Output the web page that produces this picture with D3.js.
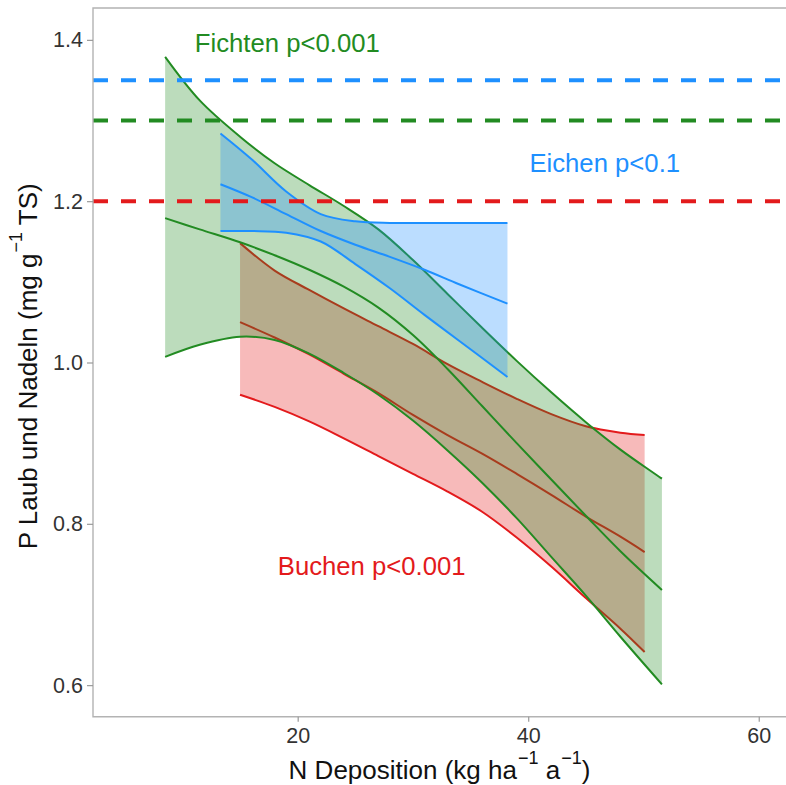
<!DOCTYPE html>
<html>
<head>
<meta charset="utf-8">
<script src="https://cdn.jsdelivr.net/npm/d3@7"></script>
<style>
  html, body { margin: 0; padding: 0; background: #fff; }
  svg { display: block; font-family: "Liberation Sans", Arial, Helvetica, sans-serif; }
</style>
</head>
<body>
<svg id="chart" width="786" height="785"></svg>
<script>
// Axis ticks
const xTicks = [20, 40, 60];
const yTicks = [0.6, 0.8, 1.0, 1.2, 1.4];

// Buchen (beech): fitted P content with confidence band
const buchenX    = [15, 18, 21, 24, 27, 30, 33, 36, 39, 42, 45, 48, 50.1];
const buchenFit  = [1.050, 1.031, 1.010, 0.986, 0.962, 0.935, 0.910, 0.887, 0.862, 0.836, 0.809, 0.784, 0.765];
const buchenLow  = [0.960, 0.945, 0.927, 0.906, 0.884, 0.862, 0.840, 0.815, 0.783, 0.747, 0.708, 0.670, 0.641];
const buchenHigh = [1.148, 1.114, 1.090, 1.067, 1.045, 1.023, 0.998, 0.976, 0.955, 0.936, 0.921, 0.913, 0.910];

// Fichten (spruce)
const fichtenX    = [8.5, 11.5, 15, 18, 21, 24, 27, 30, 33, 36, 39, 42, 45, 48, 51.6];
const fichtenFit  = [1.179, 1.165, 1.149, 1.133, 1.115, 1.094, 1.068, 1.034, 0.992, 0.946, 0.900, 0.855, 0.810, 0.766, 0.718];
const fichtenLow  = [1.007, 1.022, 1.032, 1.028, 1.011, 0.987, 0.960, 0.928, 0.891, 0.851, 0.807, 0.759, 0.711, 0.660, 0.601];
const fichtenHigh = [1.379, 1.325, 1.280, 1.247, 1.220, 1.194, 1.165, 1.127, 1.085, 1.043, 1.002, 0.963, 0.926, 0.892, 0.856];

// Eichen (oak)
const eichenX    = [13.3, 16, 19, 22, 25, 28, 31, 34, 38.2];
const eichenFit  = [1.221, 1.205, 1.184, 1.163, 1.146, 1.131, 1.115, 1.097, 1.073];
const eichenLow  = [1.163, 1.163, 1.161, 1.150, 1.122, 1.092, 1.059, 1.027, 0.982];
const eichenHigh = [1.284, 1.252, 1.212, 1.184, 1.175, 1.173, 1.173, 1.173, 1.173];

// Reference levels (dashed)
const refNames  = ["Eichen", "Fichten", "Buchen"];
const refLevels = [1.35, 1.30, 1.20];

// Annotation texts
const labelNames = ["Fichten", "Eichen", "Buchen"];
const labelTexts = ["Fichten p<0.001", "Eichen p<0.1", "Buchen p<0.001"];

const colors = { Buchen: "#E31A1C", Fichten: "#228B22", Eichen: "#1E90FF" };

const W = 786, H = 785;
const panel = { left: 93, top: 8, right: 786, bottom: 716.7 };

const x = d3.scaleLinear().domain([2.25, 62.4]).range([93.1, 786.4]);
const y = d3.scaleLinear().domain([0.56, 1.44]).range([717.4, 7.6]);

const svg = d3.select("#chart");
svg.append("rect").attr("width", W).attr("height", H).attr("fill", "#fff");

svg.append("clipPath").attr("id", "panel-clip")
  .append("rect")
  .attr("x", panel.left).attr("y", panel.top)
  .attr("width", panel.right - panel.left).attr("height", panel.bottom - panel.top);

const plot = svg.append("g").attr("clip-path", "url(#panel-clip)");

function makeSeries(name, xs, fit, lo, hi) {
  return {
    name,
    rows: xs.map((d, i) => ({ x: d, fit: fit[i], lo: lo[i], hi: hi[i] }))
  };
}

const series = [
  makeSeries("Buchen", buchenX, buchenFit, buchenLow, buchenHigh),
  makeSeries("Fichten", fichtenX, fichtenFit, fichtenLow, fichtenHigh),
  makeSeries("Eichen", eichenX, eichenFit, eichenLow, eichenHigh)
];

const curve = d3.curveCatmullRom.alpha(0.5);
const area = d3.area().x(d => x(d.x)).y0(d => y(d.lo)).y1(d => y(d.hi)).curve(curve);
const lineOf = key => d3.line().x(d => x(d.x)).y(d => y(d[key])).curve(curve);

series.forEach(s => {
  const g = plot.append("g");
  const c = colors[s.name];
  g.append("path").datum(s.rows)
    .attr("d", area)
    .attr("fill", c).attr("fill-opacity", 0.3).attr("stroke", "none");
  ["lo", "fit", "hi"].forEach(k => {
    g.append("path").datum(s.rows)
      .attr("d", lineOf(k))
      .attr("fill", "none").attr("stroke", c)
      .attr("stroke-width", 2);
  });
});

// Dashed reference levels
refLevels.forEach((v, i) => {
  plot.append("line")
    .attr("x1", panel.left).attr("x2", panel.right + 5)
    .attr("y1", y(v)).attr("y2", y(v))
    .attr("stroke", colors[refNames[i]])
    .attr("stroke-width", 4)
    .attr("stroke-dasharray", "15,13");
});

// Panel border
const borderColor = "#b3b3b3";
svg.append("path")
  .attr("d", `M${panel.right + 2},${panel.top}H${panel.left}V${panel.bottom}H${panel.right + 2}`)
  .attr("fill", "none").attr("stroke", borderColor).attr("stroke-width", 1.4);

// Axes
const xAxis = svg.append("g").attr("transform", `translate(0,${panel.bottom})`)
  .call(d3.axisBottom(x).tickValues(xTicks).tickSize(5).tickPadding(6).tickFormat(d3.format("d")));
const yAxis = svg.append("g").attr("transform", `translate(${panel.left},0)`)
  .call(d3.axisLeft(y).tickValues(yTicks).tickSize(6).tickPadding(4).tickFormat(d3.format(".1f")));

[xAxis, yAxis].forEach(a => {
  a.select(".domain").remove();
  a.selectAll(".tick line").attr("stroke", "#999").attr("stroke-width", 1.2);
  a.selectAll(".tick text")
    .attr("fill", "#333")
    .style("font-size", "21.5px")
    .style("font-family", "\"Liberation Sans\", Arial, sans-serif");
});

// Axis titles
const xTitle = svg.append("text")
  .attr("x", (panel.left + panel.right) / 2).attr("y", 779)
  .attr("text-anchor", "middle")
  .style("font-size", "26px").attr("fill", "#111");
xTitle.append("tspan").text("N Deposition (kg ha");
xTitle.append("tspan").attr("dy", -15).attr("dx", 1).style("font-size", "18px").text("\u22121");
xTitle.append("tspan").attr("dy", 15).text(" a");
xTitle.append("tspan").attr("dy", -15).attr("dx", 1).style("font-size", "18px").text("\u22121");
xTitle.append("tspan").attr("dy", 15).text(")");

const yTitle = svg.append("text")
  .attr("transform", `translate(37,${(panel.top + panel.bottom) / 2 + 4}) rotate(-90)`)
  .attr("text-anchor", "middle")
  .style("font-size", "26px").attr("fill", "#111");
yTitle.append("tspan").text("P Laub und Nadeln (mg g");
yTitle.append("tspan").attr("dy", -15).attr("dx", 1).style("font-size", "18px").text("\u22121");
yTitle.append("tspan").attr("dy", 15).text(" TS)");

// Significance annotations
const labelPos = { Fichten: [19.1, 1.385], Eichen: [46.64, 1.2366], Buchen: [26.42, 0.7365] };
labelNames.forEach((n, i) => {
  svg.append("text")
    .attr("x", x(labelPos[n][0])).attr("y", y(labelPos[n][1]))
    .attr("text-anchor", "middle")
    .attr("fill", colors[n])
    .style("font-size", "25.7px")
    .text(labelTexts[i]);
});
</script>
</body>
</html>
